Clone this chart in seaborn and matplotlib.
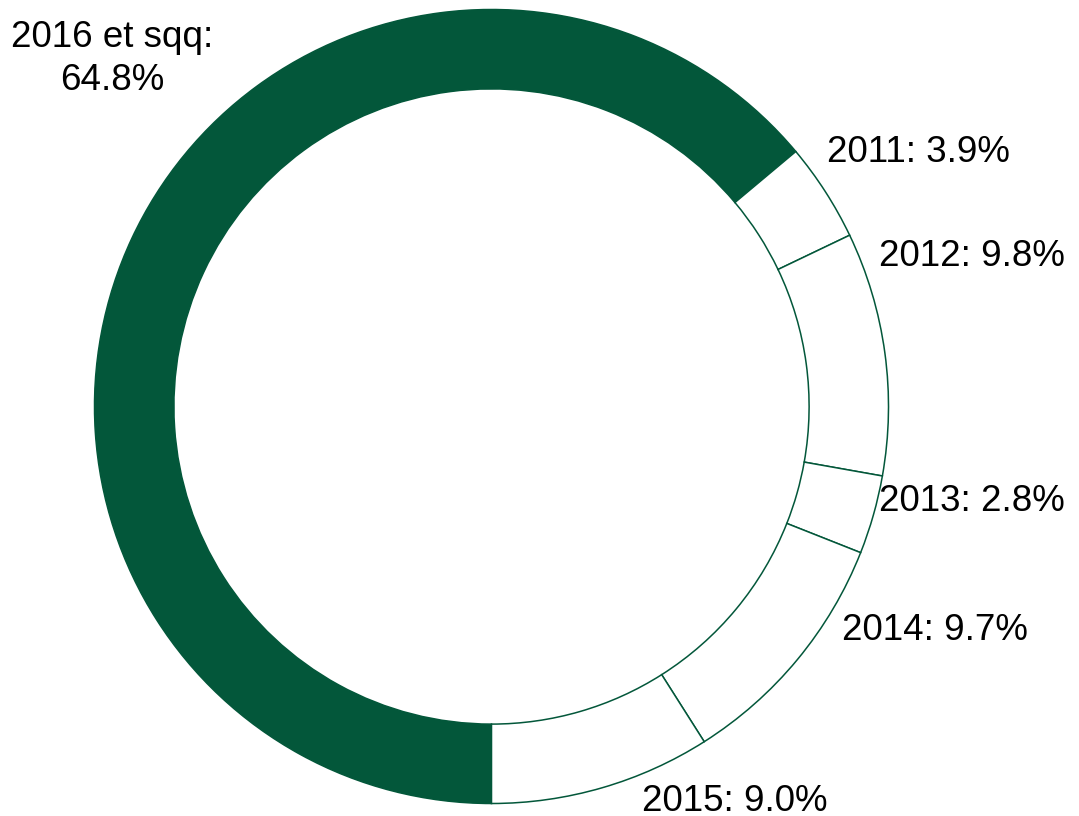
import numpy as np
import matplotlib
matplotlib.use("Agg")
import matplotlib.pyplot as plt
import seaborn as sns

# data
periods = ['2016 et sqq', '2011', '2012', '2013', '2014', '2015']
# printed percentages in the labels
label_pct = [64.8, 3.9, 9.8, 2.8, 9.7, 9.0]
# wedge sizes as drawn in the picture (slightly differ from the printed ones)
shares = [63.9, 4.0, 9.9, 3.2, 10.0, 9.0]
fill_colors = ['#03573A', 'white', 'white', 'white', 'white', 'white']

# label placement (in units of the ring radius) and alignment
label_pos = [(-0.956, 0.875), (0.846, 0.615), (0.977, 0.353),
             (0.977, -0.264), (0.884, -0.589), (0.380, -1.020)]
label_ha = ['center', 'left', 'left', 'left', 'left', 'left']
label_va = ['center', 'baseline', 'baseline', 'baseline', 'baseline', 'baseline']

sns.set_theme(style="white")
plt.rcParams['font.family'] = ['Liberation Sans', 'DejaVu Sans']

fig = plt.figure(figsize=(10.79, 8.16), dpi=100)
cx, cy, r = 491.5, 406.5, 397
ax = fig.add_axes([(cx - r) / 1079, (816 - cy - r) / 816, 2 * r / 1079, 2 * r / 816])

green = '#03573A'
ax.pie(shares, colors=fill_colors, startangle=-90, counterclock=False, radius=1,
       wedgeprops=dict(width=0.2, edgecolor=green, linewidth=1.1))

for name, val, (x, y), ha, va in zip(periods, label_pct, label_pos, label_ha, label_va):
    if name.startswith('2016'):
        txt = f"{name}:\n{val:.1f}%"
    else:
        txt = f"{name}: {val:.1f}%"
    ax.text(x, y, txt, ha=ha, va=va, fontsize=26.5, color='black',
            multialignment='center', linespacing=1.29)

ax.set_xlim(-1, 1)
ax.set_ylim(-1, 1)
ax.set_aspect('equal')
ax.axis('off')

fig.savefig('out.png', dpi=100)
